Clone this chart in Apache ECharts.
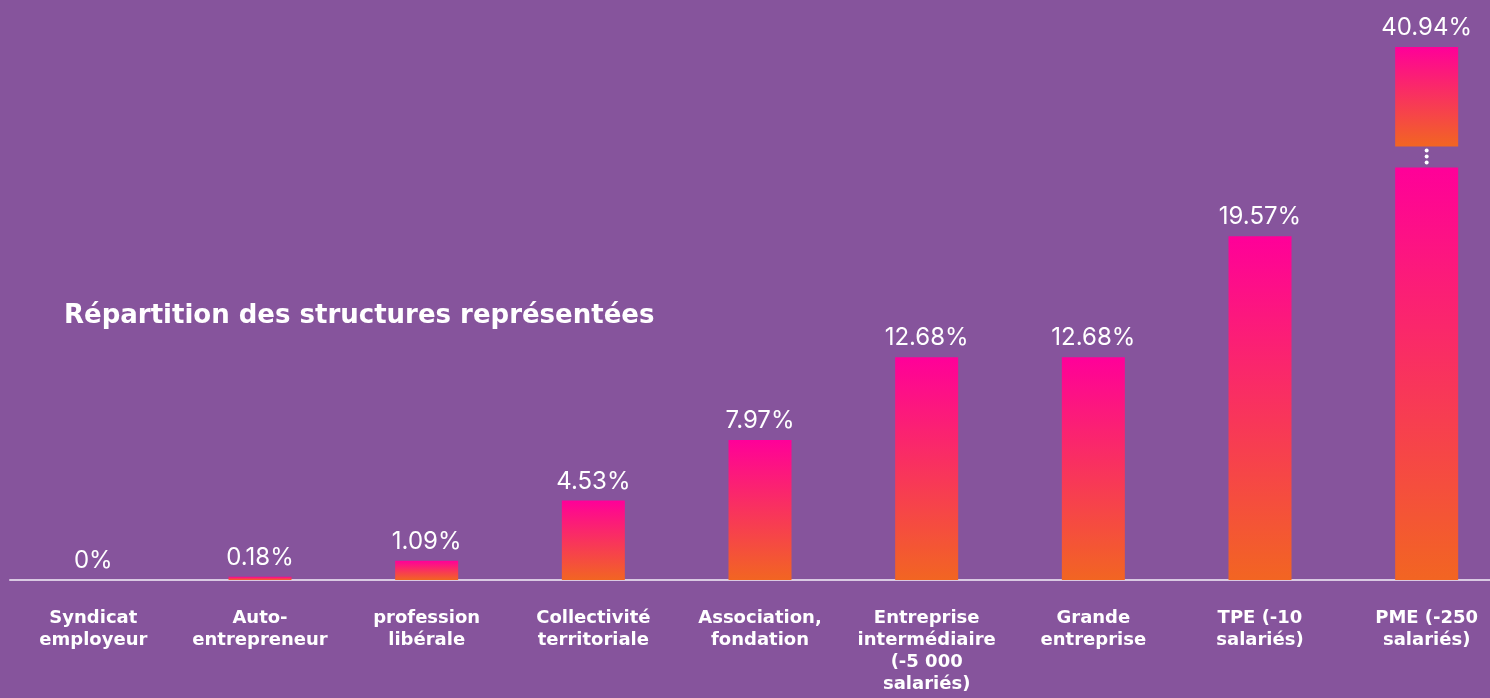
<!DOCTYPE html>
<html>
<head>
<meta charset="utf-8">
<style>
  html, body { margin: 0; padding: 0; background: #86549c; }
  #chart { width: 1490px; height: 698px; }
</style>
<script src="https://cdn.jsdelivr.net/npm/echarts@6/dist/echarts.min.js"></script>
</head>
<body>
<div id="chart"></div>
<script>
// catégories (libellés affichés sur l'axe)
var categories = [
  'Syndicat\nemployeur',
  'Auto-\nentrepreneur',
  'profession\nlibérale',
  'Collectivité\nterritoriale',
  'Association,\nfondation',
  'Entreprise\nintermédiaire\n(-5 000\nsalariés)',
  'Grande\nentreprise',
  'TPE (-10\nsalariés)',
  'PME (-250\nsalariés)'
]
// part en %
var values = [0, 0.18, 1.09, 4.53, 7.97, 12.68, 12.68, 19.57, 40.94]
// coupure de l'axe pour la grande barre
var breakStart = 23.5
var breakEnd = 35.3

var pink = '#ff0099'
var orange = '#f26522'

var chart = echarts.init(document.getElementById('chart'))

function barColor (last) {
  if (last) {
    // dégradé qui recommence de part et d'autre de la coupure
    return new echarts.graphic.LinearGradient(0, 0, 0, 1, [
      { offset: 0, color: pink },
      { offset: 0.186, color: orange },
      { offset: 0.225, color: pink },
      { offset: 1, color: orange }
    ])
  }
  return new echarts.graphic.LinearGradient(0, 0, 0, 1, [
    { offset: 0, color: pink },
    { offset: 1, color: orange }
  ])
}

var option = {
  backgroundColor: '#86549c',
  animation: false,
  title: {
    text: 'Répartition des structures représentées',
    left: 59,
    top: 298,
    z: 20,
    textStyle: {
      color: '#ffffff',
      fontFamily: 'DejaVu Sans',
      fontWeight: 'bold',
      fontSize: 26
    }
  },
  grid: {
    left: 10,
    right: -20,
    top: 47,
    bottom: 118,
    containLabel: false,
    outerBoundsMode: 'none'
  },
  xAxis: {
    type: 'category',
    data: categories,
    axisTick: { show: false },
    axisLine: {
      lineStyle: { color: '#d9c9e2', width: 2 }
    },
    axisLabel: {
      interval: 0,
      margin: 27,
      color: '#ffffff',
      fontFamily: 'DejaVu Sans',
      fontWeight: 'bold',
      fontSize: 18,
      lineHeight: 22
    }
  },
  yAxis: {
    type: 'value',
    min: 0,
    max: 40.94,
    show: true,
    axisLine: { show: false },
    axisTick: { show: false },
    axisLabel: { show: false },
    splitLine: { show: false },
    breaks: [{ start: breakStart, end: breakEnd, gap: '3.94%' }],
    breakArea: {
      show: true,
      itemStyle: { color: '#86549c', borderWidth: 0, opacity: 1 },
      zigzagAmplitude: 0,
      expandOnClick: false
    }
  },
  series: [{
    type: 'bar',
    barWidth: 63,
    data: values.map(function (v, i) {
      return {
        value: v,
        itemStyle: { color: barColor(i === values.length - 1) }
      }
    }),
    label: {
      show: true,
      position: 'top',
      distance: 7,
      color: '#ffffff',
      fontFamily: 'Inter',
      fontSize: 24,
      formatter: function (p) { return p.value + '%' }
    }
  }]
}

chart.setOption(option)

// les trois points de la coupure
var p0 = chart.convertToPixel({ xAxisIndex: 0, yAxisIndex: 0 }, [values.length - 1, breakStart])
var p1 = chart.convertToPixel({ xAxisIndex: 0, yAxisIndex: 0 }, [values.length - 1, breakEnd])
var cy = (p0[1] + p1[1]) / 2
chart.setOption({
  graphic: [-6, 0, 6].map(function (d) {
    return {
      type: 'circle',
      shape: { cx: p0[0], cy: cy + d, r: 2 },
      style: { fill: '#ffffff' },
      z: 100
    }
  })
})
</script>
</body>
</html>
